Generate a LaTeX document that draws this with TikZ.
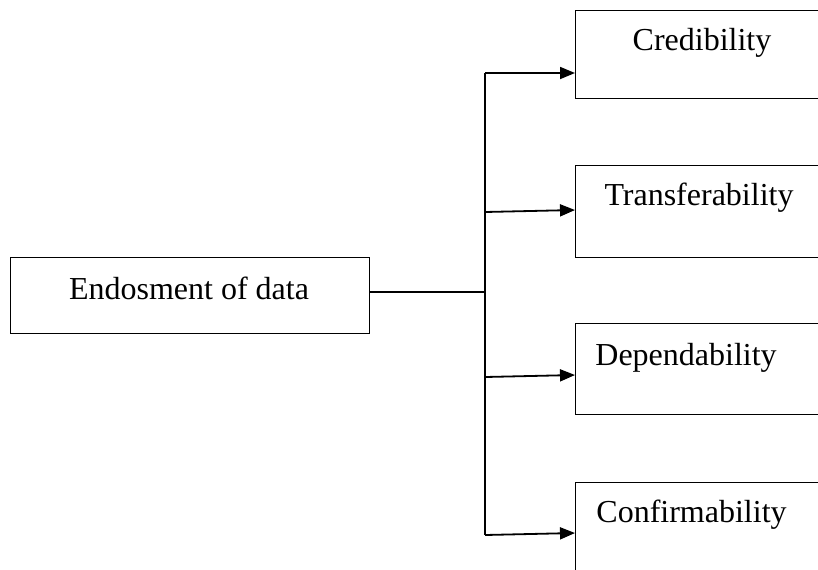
\documentclass[tikz,border=0pt]{standalone}
\usepackage{fontspec}
\setmainfont{Liberation Serif}
\usetikzlibrary{arrows.meta}

\begin{document}
\begin{tikzpicture}[x=0.5pt, y=-0.5pt,
    box/.style={draw, line width=0.7pt, inner sep=0pt, anchor=north west},
    txt/.style={font=\fontsize{16}{19}\selectfont, inner sep=0pt, anchor=base},
    link/.style={line width=0.9pt},
    arr/.style={line width=0.9pt, -{Triangle[length=7.5pt, width=6pt]}}]
    \clip (0,0) rectangle (818,569);
    % left box
    \node[box, minimum width=179.5pt, minimum height=38pt] (endo) at (10,257) {};
    \node[txt] (endotxt) at (189,299) {Endosment of data};
    % right boxes, cut off at the right edge
    \node[box, minimum width=132.5pt, minimum height=44pt] (cred) at (575,10) {};
    \node[txt] (credtxt) at (702,50) {Credibility};
    \node[box, minimum width=132.5pt, minimum height=46pt] (trans) at (575,165) {};
    \node[txt] (transtxt) at (699,205) {Transferability};
    \node[box, minimum width=132.5pt, minimum height=45.5pt] (dep) at (575,323) {};
    \node[txt, anchor=base west] (deptxt) at (595,365) {Dependability};
    \node[box, minimum width=132.5pt, minimum height=50pt] (conf) at (575,482) {};
    \node[txt, anchor=base west] (conftxt) at (596,522) {Confirmability};
    % trunk and branches
    \coordinate (j) at (485,292);
    \coordinate (b1) at (485,73);
    \coordinate (b2) at (485,212);
    \coordinate (b3) at (485,377);
    \coordinate (b4) at (485,535);
    \draw[link] (endo.east |- j) -- (j);
    \draw[link] (b1) -- (b4);
    \draw[arr] (b1) -- (cred.west |- b1);
    \draw[arr] (b2) -- ([yshift=1pt]trans.west |- b2);
    \draw[arr] (b3) -- ([yshift=1pt]dep.west |- b3);
    \draw[arr] (b4) -- ([yshift=1pt]conf.west |- b4);
\end{tikzpicture}
\end{document}
